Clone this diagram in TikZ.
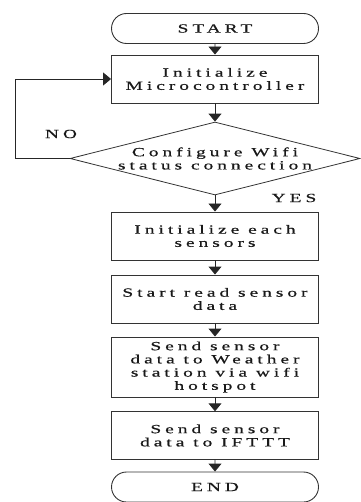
\documentclass[tikz,border=0pt]{standalone}
\usepackage{fontspec}
\setmainfont{Liberation Serif}[FakeStretch=1.55,LetterSpace=32,FakeBold=0.6]
\usetikzlibrary{shapes.geometric,shapes.misc,arrows.meta}
\begin{document}
\begin{tikzpicture}[x=1pt,y=-1pt,
  txt/.style={font=\fontsize{12.5}{13.2}\selectfont, text=black!90},
  proc/.style={txt, draw=black!80, line width=0.9pt, minimum width=207pt, inner sep=0pt, align=center},
  term/.style={txt, draw=black!80, line width=0.9pt, rounded rectangle, minimum width=207pt, minimum height=30pt, inner sep=0pt},
  dec/.style={txt, draw=black!80, line width=0.8pt, diamond, minimum width=290pt, minimum height=73pt, inner sep=0pt, aspect=4, align=center},
  arr/.style={-{Triangle[width=13pt,length=8pt]}, line width=0.9pt, draw=black!85},
  lbl/.style={txt}
]
\useasboundingbox (0,0) rectangle (360,502);
\node[term] (start) at (215,28.5) {START};
\node[proc, minimum height=48pt] (init) at (215,79) {Initialize\\Microcontroller};
\node[dec] (cfg) at (215,158.5) {Configure Wifi\\status connection};
\node[proc, minimum height=48pt] (sens) at (215,236) {Initialize each\\sensors};
\node[proc, minimum height=48pt] (read) at (215,299) {Start read sensor\\data};
\node[proc, minimum height=60pt] (send) at (215,367) {Send sensor\\data to Weather\\station via wifi\\hotspot};
\node[proc, minimum height=47.5pt] (ifttt) at (215,435.5) {Send sensor\\data to IFTTT};
\node[term] (end) at (215,487) {END};
\node[lbl] (no) at (61,134) {NO};
\node[lbl] (yes) at (294,198) {YES};
\coordinate (loop) at (15,158.5);
\draw[arr] (start) -- (init);
\draw[arr] (init) -- (cfg.north);
\draw[arr] (cfg.south) -- (sens);
\draw[arr] (sens) -- (read);
\draw[arr] (read) -- (send);
\draw[arr] (send) -- (ifttt);
\draw[arr] (ifttt) -- (end);
\draw[arr] (cfg.west) -- (loop) |- (init.west);
\end{tikzpicture}
\end{document}
